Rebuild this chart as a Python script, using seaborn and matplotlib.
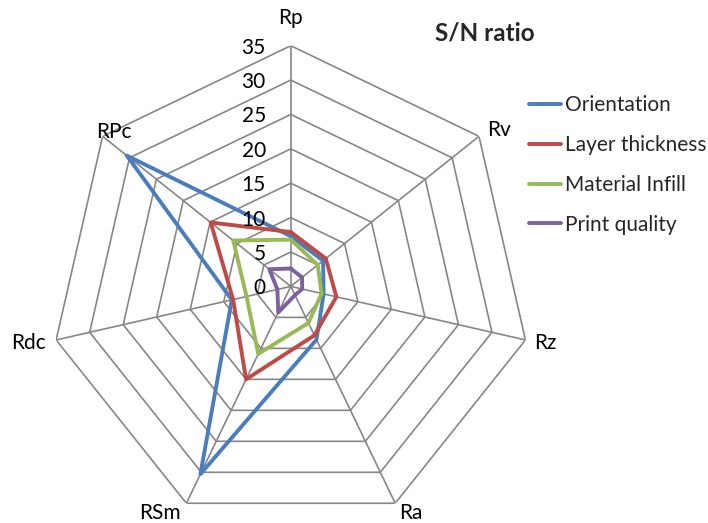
import numpy as np
import pandas as pd
import matplotlib
matplotlib.use("Agg")
import matplotlib.pyplot as plt
import matplotlib.transforms as mtransforms
from matplotlib.lines import Line2D
import seaborn as sns

categories = ["Rp", "Rv", "Rz", "Ra", "RSm", "Rdc", "RPc"]
orientation = [7.3, 6.0, 4.9, 8.6, 30.3, 8.8, 30.5]
layer_thickness = [7.9, 6.5, 6.8, 7.9, 15.0, 8.6, 14.9]
material_infill = [6.8, 5.0, 4.6, 5.9, 10.9, 6.6, 10.7]
print_quality = [2.6, 2.1, 1.7, 1.4, 4.2, 2.0, 4.0]
series_names = ["Orientation", "Layer thickness", "Material Infill", "Print quality"]
series_values = [orientation, layer_thickness, material_infill, print_quality]
colors = ["#4A7EBB", "#BE4B48", "#98B954", "#7D60A0"]
r_ticks = [0, 5, 10, 15, 20, 25, 30, 35]
title = "S/N ratio"

sns.set_theme(style="white")
plt.rcParams["font.family"] = ["Lato", "DejaVu Sans"]

n = len(categories)
angles = [i * 2 * np.pi / n for i in range(n)]

rows = []
for name, vals in zip(series_names, series_values):
    for a, v in zip(angles + [2 * np.pi], vals + [vals[0]]):
        rows.append({"theta": a, "value": v, "series": name})
df = pd.DataFrame(rows)

fig = plt.figure(figsize=(7.08, 5.23), dpi=100)
W, H = 708, 523
cx, cy, R = 290.8, 286.4, 240.7
ax = fig.add_axes([(cx - R) / W, (H - cy - R) / H, 2 * R / W, 2 * R / H], projection="polar")
ax.set_theta_zero_location("N")
ax.set_theta_direction(-1)
ax.set_ylim(0, r_ticks[-1])
ax.grid(False)
ax.spines["polar"].set_visible(False)
ax.set_xticks([])
ax.set_yticks([])
ax.patch.set_alpha(0)

grid_color = "#878787"
for r in r_ticks[1:]:
    ax.plot(angles + [angles[0]], [r] * (n + 1), color=grid_color, lw=1.2, zorder=1)
for a in angles:
    ax.plot([a, a], [0, r_ticks[-1]], color=grid_color, lw=1.2, zorder=1)

sns.lineplot(data=df, x="theta", y="value", hue="series", palette=colors,
             hue_order=series_names, sort=False, estimator=None, lw=2.8,
             ax=ax, legend=False, zorder=3)
ax.set_xlabel("")
ax.set_ylabel("")

fs = 15
tr = mtransforms.offset_copy(ax.transData, fig=fig, x=-25, y=-2, units="dots")
for r in r_ticks:
    ax.text(0, r, str(r), transform=tr, ha="right", va="center", fontsize=fs, color="#000000")

offsets = [(0, 28), (20, 6), (20, -3), (16, -10), (-26, -10), (-28, -3), (11, 4)]
for a, lab, (dx, dy) in zip(angles, categories, offsets):
    t = mtransforms.offset_copy(ax.transData, fig=fig, x=dx, y=dy, units="dots")
    ax.text(a, r_ticks[-1], lab, transform=t, ha="center", va="center", fontsize=fs, color="#000000")

fig.text(485 / W, 1 - 33 / H, title, ha="center", va="center", fontsize=17.5, fontweight="bold")

handles = [Line2D([0], [0], color=c, lw=2.8) for c in colors]
fig.legend(handles, series_names, loc="upper left", bbox_to_anchor=(0.736, 1 - 87 / H),
           frameon=False, fontsize=fs, handlelength=1.5, handletextpad=0.2,
           labelspacing=0.95, borderaxespad=0)

fig.savefig("out.png", dpi=100)
